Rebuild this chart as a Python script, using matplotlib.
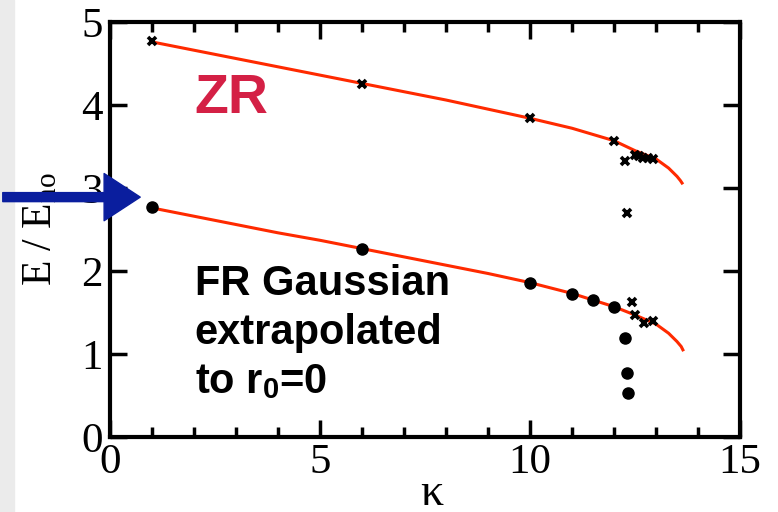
import matplotlib.pyplot as plt
from matplotlib.patches import Rectangle, FancyArrowPatch

plt.rcParams['font.family'] = ['Liberation Serif', 'DejaVu Serif']
plt.rcParams['mathtext.fontset'] = 'custom'
plt.rcParams['mathtext.rm'] = 'Liberation Serif'
plt.rcParams['mathtext.it'] = 'Liberation Serif:italic'
plt.rcParams['mathtext.bf'] = 'Liberation Sans:bold'

# fitted curves (ZR on top, FR Gaussian below)
kappa_zr_fit = [1, 2, 3, 4, 5, 6, 7, 8, 9, 10, 11, 12, 12.5, 13.0, 13.3, 13.5, 13.58, 13.62]
e_zr_fit = [4.76, 4.66, 4.56, 4.46, 4.36, 4.26, 4.16, 4.06, 3.95, 3.84, 3.72, 3.57,
            3.45, 3.35, 3.24, 3.14, 3.09, 3.06]
kappa_fr_fit = [1, 2, 3, 4, 5, 6, 7, 8, 9, 10, 11, 12, 12.5, 13.0, 13.3, 13.5, 13.6, 13.64]
e_fr_fit = [2.76, 2.66, 2.56, 2.46, 2.37, 2.27, 2.17, 2.07, 1.97, 1.86, 1.73, 1.57,
            1.47, 1.36, 1.25, 1.15, 1.09, 1.05]

# computed points
kappa_zr = [1, 6, 10, 12, 12.27, 12.5, 12.6, 12.7, 12.8, 12.93, 12.3]
e_zr = [4.77, 4.25, 3.84, 3.57, 3.33, 3.40, 3.38, 3.36, 3.36, 3.35, 2.70]
kappa_fr = [1, 6, 10, 11, 11.5, 12, 12.27, 12.31, 12.33]
e_fr = [2.77, 2.27, 1.85, 1.72, 1.65, 1.57, 1.19, 0.77, 0.53]
kappa_fr_x = [12.43, 12.5, 12.71, 12.93]
e_fr_x = [1.63, 1.47, 1.37, 1.40]

fig = plt.figure(figsize=(7.78, 5.12), dpi=100)
fig.patches.append(Rectangle((0, 0), 14 / 778, 1, transform=fig.transFigure,
                             color='#ebebeb', zorder=0))
ax = fig.add_axes([110 / 778, 1 - 437 / 512, 630 / 778, 415 / 512])

red = '#ff2a00'
ax.plot(kappa_zr_fit, e_zr_fit, color=red, lw=2.2, zorder=2)
ax.plot(kappa_fr_fit, e_fr_fit, color=red, lw=2.2, zorder=2)
ax.plot(kappa_zr, e_zr, 'x', color='black', ms=6, mew=2.6, zorder=3)
ax.plot(kappa_fr, e_fr, 'o', color='black', ms=8, zorder=3)
ax.plot(kappa_fr_x, e_fr_x, 'x', color='black', ms=6, mew=2.6, zorder=3)

ax.set_xlim(0, 15)
ax.set_ylim(0, 5)
ax.set_xticks([0, 5, 10, 15])
ax.set_xticks(range(16), minor=True)
ax.set_yticks(range(6))
ax.tick_params(which='both', direction='in', top=True, right=True, width=2.5,
               labelsize=31, pad=5)
ax.tick_params(which='major', length=12)
ax.tick_params(which='minor', length=7)
ax.tick_params(axis='y', which='minor', left=False, right=False)
for s in ax.spines.values():
    s.set_linewidth(3)

ax.set_xlabel('κ', fontsize=33)
ax.xaxis.set_label_coords(0.511, -0.085)
ax.set_ylabel(r'E / E$_\mathrm{no}$', fontsize=30, labelpad=15)

ax.text(2.02, 3.9, 'ZR', fontsize=40, fontweight='bold', color='#d42045',
        family='Liberation Sans')
ax.text(2.02, 2.09, 'FR Gaussian\nextrapolated\nto r$_\\mathbf{0}$=0', fontsize=30,
        fontweight='bold', color='black', family='Liberation Sans', va='top',
        linespacing=1.3)

arrow = FancyArrowPatch((0, 0.615), (143 / 778, 0.615),
                        transform=fig.transFigure,
                        arrowstyle='simple,head_length=26,head_width=34,tail_width=6.5',
                        mutation_scale=1, color='#0a1e9e', zorder=10)
fig.patches.append(arrow)

fig.savefig('out.png', dpi=100)
